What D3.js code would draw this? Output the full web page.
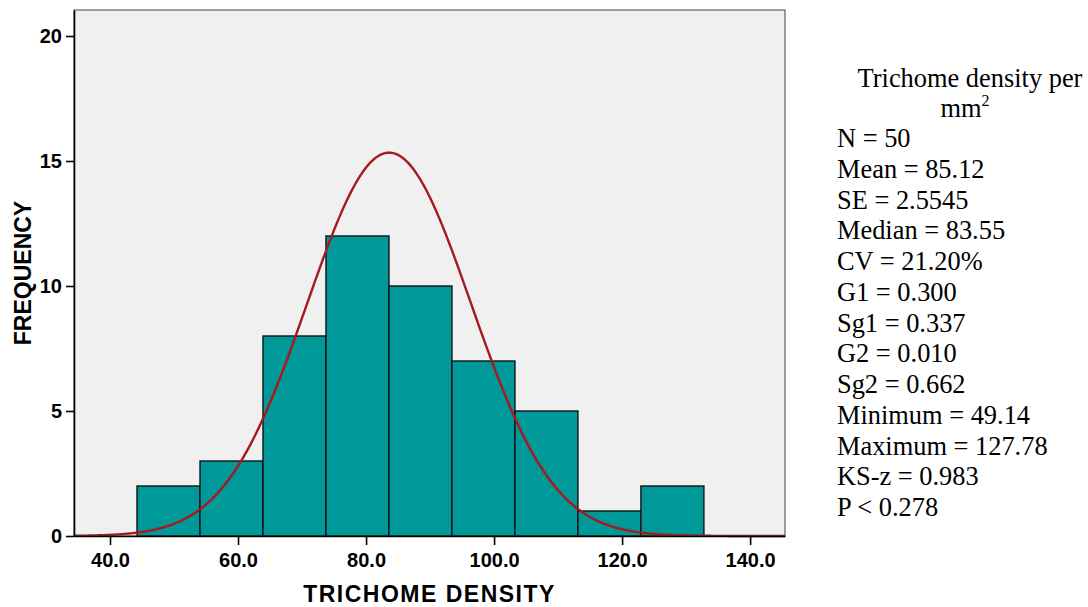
<!DOCTYPE html>
<html>
<head>
<meta charset="utf-8">
<script src="https://cdn.jsdelivr.net/npm/d3@7"></script>
<style>
  body { margin: 0; background: #fff; }
  svg { display: block; }
</style>
</head>
<body>
<div id="graph"></div>
<script>
// histogram bins (lower edge of first bin + width) and counts
var binStart = 44.22;
var binWidth = 9.84;
var counts = [2, 3, 8, 12, 10, 7, 5, 1, 2];

// fitted normal curve shown in the picture
var curveMean = 83.6;
var curveSd = 12.8;
var sampleN = 50;

var xTicks = [40, 60, 80, 100, 120, 140];
var yTicks = [0, 5, 10, 15, 20];

var statsTitle = ["Trichome density per", "mm"];
var statsLines = [
  "N = 50", "Mean = 85.12", "SE = 2.5545", "Median = 83.55", "CV = 21.20%",
  "G1 = 0.300", "Sg1 = 0.337", "G2 = 0.010", "Sg2 = 0.662",
  "Minimum = 49.14", "Maximum = 127.78", "KS-z = 0.983", "P < 0.278"
];

var width = 1088, height = 607;
var margin = { top: 10, left: 74, bottom: 71, right: 303 };
var chartWidth = width - margin.left - margin.right;
var chartHeight = height - margin.top - margin.bottom;

var svg = d3.select("#graph").append("svg")
  .attr("width", width).attr("height", height);

var chartLayer = svg.append("g")
  .attr("transform", "translate(" + [margin.left, margin.top] + ")");

var xScale = d3.scaleLinear().domain([34.375, 145.45]).range([0, chartWidth]);
var yScale = d3.scaleLinear().domain([0, 21.04]).range([chartHeight, 0]);

// 背景
chartLayer.append("rect")
  .attr("width", chartWidth).attr("height", chartHeight)
  .attr("fill", "#f0f0f0");

var bins = counts.map(function(c, i) {
  return { x0: binStart + i * binWidth, x1: binStart + (i + 1) * binWidth, n: c };
});

chartLayer.selectAll(".bar").data(bins).enter()
  .append("rect")
  .attr("class", "bar")
  .attr("x", function(d) { return xScale(d.x0); })
  .attr("y", function(d) { return yScale(d.n); })
  .attr("width", function(d) { return xScale(d.x1) - xScale(d.x0); })
  .attr("height", function(d) { return chartHeight - yScale(d.n); })
  .attr("fill", "#009999")
  .attr("stroke", "#111")
  .attr("stroke-width", 1.4);

// normal curve
var xs = d3.range(0, 401).map(function(i) {
  return xScale.domain()[0] + i * (xScale.domain()[1] - xScale.domain()[0]) / 400;
});
var norm = function(x) {
  var z = (x - curveMean) / curveSd;
  return sampleN * binWidth / (curveSd * Math.sqrt(2 * Math.PI)) * Math.exp(-0.5 * z * z);
};
chartLayer.append("path")
  .datum(xs)
  .attr("fill", "none")
  .attr("stroke", "#a51a1f")
  .attr("stroke-width", 2.4)
  .attr("d", d3.line()
    .x(function(d) { return xScale(d); })
    .y(function(d) { return yScale(norm(d)); }));

// frame
chartLayer.append("rect")
  .attr("width", chartWidth).attr("height", chartHeight)
  .attr("fill", "none").attr("stroke", "#444").attr("stroke-width", 1);

// axes
var xAxis = d3.axisBottom(xScale).tickValues(xTicks).tickSizeInner(9).tickSizeOuter(0)
  .tickFormat(d3.format(".1f")).tickPadding(8);
var gx = svg.append("g")
  .attr("transform", "translate(" + [margin.left, margin.top + chartHeight] + ")")
  .call(xAxis);

var yAxis = d3.axisLeft(yScale).tickValues(yTicks).tickSizeInner(8).tickSizeOuter(0).tickPadding(4);
var gy = svg.append("g")
  .attr("transform", "translate(" + [margin.left, margin.top] + ")")
  .call(yAxis);

[gx, gy].forEach(function(g) {
  g.selectAll("text")
    .attr("font-family", "Liberation Sans, Arial, sans-serif")
    .attr("font-weight", "bold")
    .attr("font-size", 20)
    .attr("fill", "#000");
  g.selectAll("line").attr("stroke", "#000").attr("stroke-width", 1.6);
  g.select(".domain").attr("stroke", "#000").attr("stroke-width", 1.6);
});

svg.append("text")
  .attr("x", margin.left + chartWidth / 2).attr("y", 602)
  .attr("text-anchor", "middle")
  .attr("font-family", "Liberation Sans, Arial, sans-serif")
  .attr("font-weight", "bold").attr("font-size", 23)
  .attr("letter-spacing", 1.5)
  .text("TRICHOME DENSITY");

svg.append("text")
  .attr("transform", "translate(31," + (margin.top + chartHeight / 2) + ") rotate(-90)")
  .attr("text-anchor", "middle")
  .attr("font-family", "Liberation Sans, Arial, sans-serif")
  .attr("font-weight", "bold").attr("font-size", 23)
  .text("FREQUENCY");

// statistics panel
var stats = svg.append("g")
  .attr("font-family", "Liberation Serif, Times New Roman, serif")
  .attr("font-size", 26.4).attr("fill", "#000");

stats.append("text").attr("x", 970).attr("y", 87).attr("text-anchor", "middle").text(statsTitle[0]);
var mm = stats.append("text").attr("x", 965).attr("y", 117).attr("text-anchor", "middle");
mm.append("tspan").text(statsTitle[1]);
mm.append("tspan").attr("font-size", 16).attr("dy", -11).text("2");

stats.selectAll(".line").data(statsLines).enter()
  .append("text")
  .attr("class", "line")
  .attr("x", 837)
  .attr("y", function(d, i) { return 147 + i * 30.75; })
  .text(function(d) { return d; });
</script>
</body>
</html>
